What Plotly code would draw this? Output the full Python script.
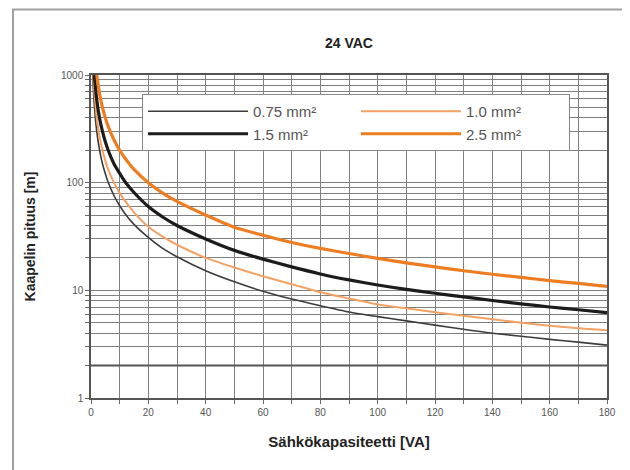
import plotly.graph_objects as go

# Data
x_075 = [0.6, 1, 2, 3, 4, 5, 6, 8, 10, 12, 15, 20, 25, 30, 40, 50, 60, 70, 80, 90, 100, 110, 120, 130, 140, 150, 160, 170, 180]
y_075 = [1000, 600, 300, 200, 150, 121, 101, 76, 61, 51, 41, 31, 24.5, 20.5, 15.2, 12, 9.8, 8.3, 7.2, 6.3, 5.7, 5.2, 4.75, 4.35, 4.0, 3.75, 3.5, 3.3, 3.1]

x_10 = [0.8, 1, 2, 3, 4, 5, 6, 8, 10, 12, 15, 20, 25, 30, 40, 50, 60, 70, 80, 90, 100, 110, 120, 130, 140, 150, 160, 170, 180]
y_10 = [1000, 800, 400, 265, 200, 160, 133, 100, 80, 67, 53, 39, 31.5, 26.5, 20, 16.3, 13.5, 11.4, 9.6, 8.4, 7.4, 6.8, 6.25, 5.8, 5.4, 5.0, 4.7, 4.45, 4.25]

x_15 = [1.15, 2, 3, 4, 5, 6, 8, 10, 12, 15, 20, 25, 30, 40, 50, 60, 70, 80, 90, 100, 110, 120, 130, 140, 150, 160, 170, 180]
y_15 = [1000, 590, 395, 300, 240, 200, 150, 122, 101, 81, 60, 48, 40, 30, 23.5, 19.5, 16.5, 14.2, 12.5, 11.2, 10.2, 9.4, 8.7, 8.05, 7.5, 7.0, 6.6, 6.2]

x_25 = [2, 3, 4, 5, 6, 8, 10, 12, 15, 20, 25, 30, 40, 50, 60, 70, 80, 90, 100, 110, 120, 130, 140, 150, 160, 170, 180]
y_25 = [1000, 665, 500, 400, 333, 250, 200, 167, 133, 100, 80, 67, 50, 38.5, 32.5, 27.8, 24.5, 22, 19.8, 18, 16.5, 15.2, 14.1, 13.2, 12.3, 11.6, 10.9]

x_ticks = list(range(0, 181, 10))
x_labels = [str(v) if v % 20 == 0 else "" for v in x_ticks]
y_ticks = [1, 2, 3, 4, 5, 6, 7, 8, 9, 10, 20, 30, 40, 50, 60, 70, 80, 90, 100,
           200, 300, 400, 500, 600, 700, 800, 900, 1000]
y_labels = [str(v) if v in (1, 10, 100, 1000) else "" for v in y_ticks]
x_range = [0, 180]
heavy_grid = 2

W, H = 622, 462
L, R, T, B = 83, 23, 67, 72
PW, PH = W - L - R, H - T - B

fig = go.Figure()

# heavier horizontal line at 2
fig.add_trace(go.Scatter(x=x_range, y=[heavy_grid, heavy_grid], mode="lines",
                         line=dict(color="#555555", width=2), showlegend=False, hoverinfo="skip"))

fig.add_trace(go.Scatter(x=x_075, y=y_075, mode="lines", name="0.75 mm²",
                         line=dict(color="#3c3c3c", width=1.6, shape="spline", smoothing=0.6)))
fig.add_trace(go.Scatter(x=x_10, y=y_10, mode="lines", name="1.0 mm²",
                         line=dict(color="#f4a263", width=2, shape="spline", smoothing=0.6)))
fig.add_trace(go.Scatter(x=x_15, y=y_15, mode="lines", name="1.5 mm²",
                         line=dict(color="#1c1c1c", width=3.2, shape="spline", smoothing=0.6)))
fig.add_trace(go.Scatter(x=x_25, y=y_25, mode="lines", name="2.5 mm²",
                         line=dict(color="#ee7d22", width=3.2, shape="spline", smoothing=0.6)))

fig.update_layout(
    width=W, height=H,
    margin=dict(l=L, r=R, t=T, b=B, autoexpand=False),
    paper_bgcolor="white", plot_bgcolor="white",
    font=dict(family="Liberation Sans, Arial, sans-serif", color="#444444"),
    title=dict(text="<b>24 VAC</b>", x=341 / W, xanchor="center", y=1 - 35 / H, yanchor="middle",
               font=dict(size=14, color="#222222")),
    showlegend=True,
    legend=dict(orientation="h", x=(142 - 91) / PW, y=(398 - 94) / PH, xanchor="left", yanchor="top",
                bgcolor="white", bordercolor="#888888", borderwidth=1,
                entrywidth=98, entrywidthmode="pixels", itemwidth=100,
                font=dict(size=15, color="#555555"), tracegroupgap=0),
    xaxis=dict(range=x_range, tickvals=x_ticks, ticktext=x_labels,
               showgrid=True, gridcolor="#808080", gridwidth=1,
               showline=True, linecolor="#555555", linewidth=1.5, mirror=True,
               ticks="outside", ticklen=4, tickcolor="#666666",
               tickfont=dict(size=10, color="#555555"), zeroline=False,
               title=dict(text="<b>Sähkökapasiteetti [VA]</b>", font=dict(size=15, color="#222222"), standoff=20)),
    yaxis=dict(type="log", range=[0, 3], tickvals=y_ticks, ticktext=y_labels,
               showgrid=True, gridcolor="#808080", gridwidth=1,
               showline=True, linecolor="#555555", linewidth=1.5, mirror=True,
               ticks="outside", ticklen=4, tickcolor="#666666",
               tickfont=dict(size=10, color="#555555"), zeroline=False,
               title=dict(text="<b>Kaapelin pituus [m]</b>", font=dict(size=14, color="#222222"), standoff=22)),
)

# outer frame (left and top edges visible, right/bottom run off the page)
fx = (5 - L) / PW
fy = (PH + T - 1.5) / PH
fig.add_shape(type="rect", xref="paper", yref="paper", x0=fx, x1=1.2, y0=-0.4, y1=fy,
              line=dict(color="#a0a0a0", width=2), fillcolor="rgba(0,0,0,0)", layer="above")

fig.write_html("out.html")
